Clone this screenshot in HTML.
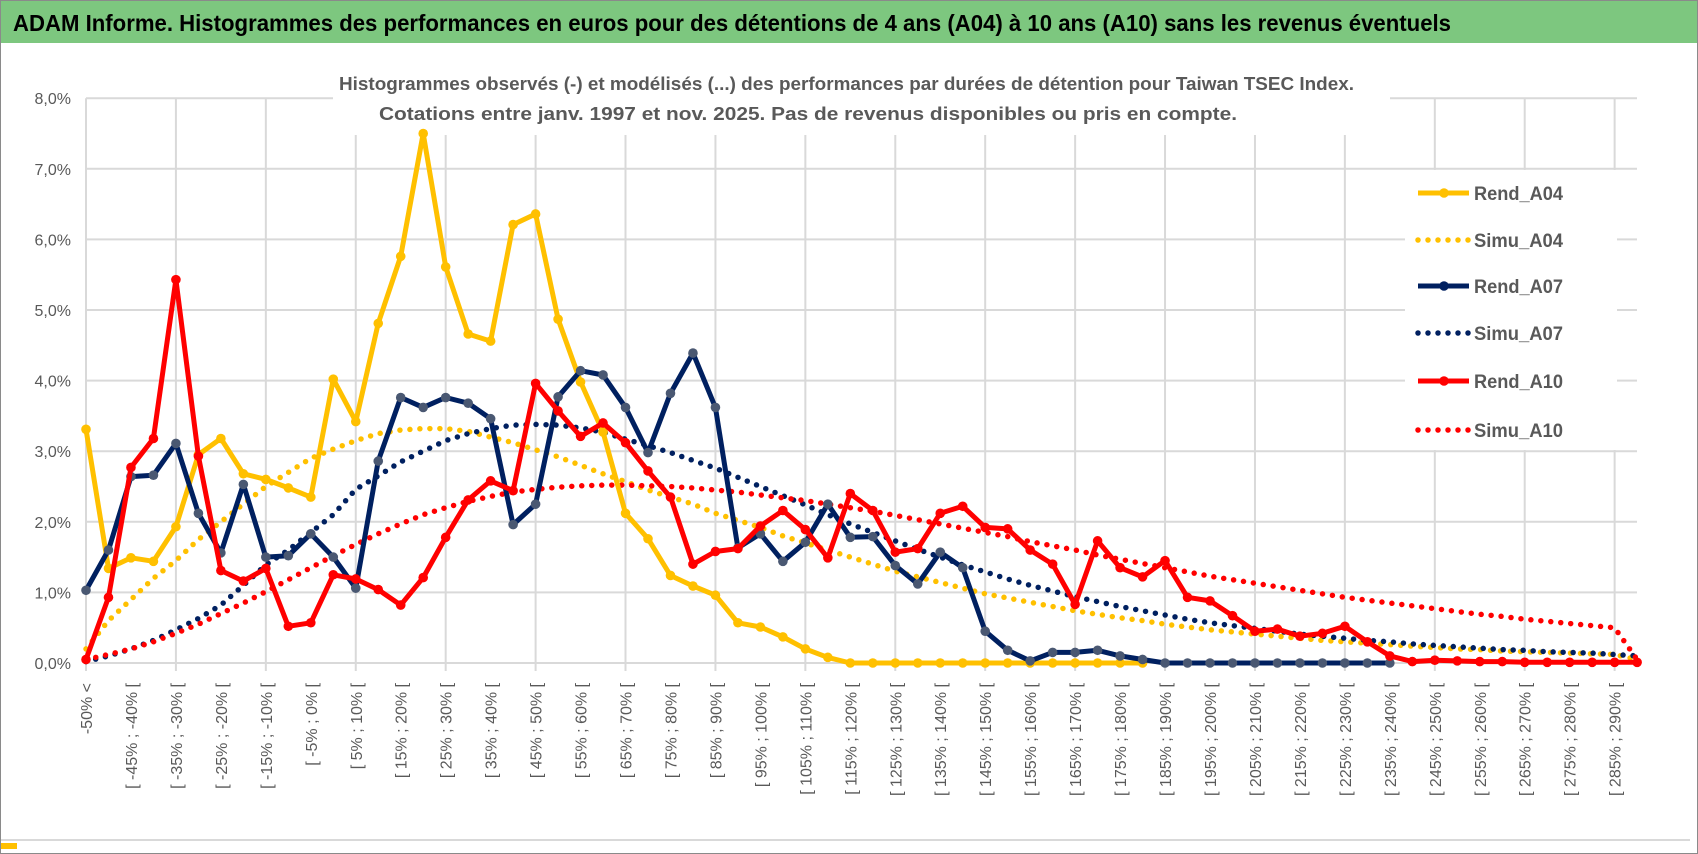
<!DOCTYPE html>
<html><head><meta charset="utf-8"><style>
html,body{margin:0;padding:0;background:#fff;}
svg{display:block;font-family:"Liberation Sans",sans-serif;}
</style></head><body>
<svg id="chart" width="1698" height="854" viewBox="0 0 1698 854" xmlns="http://www.w3.org/2000/svg">
<rect x="0.5" y="0.5" width="1697" height="853" fill="#fff" stroke="#8a8a8a"/>
<rect x="1" y="1" width="1696" height="42" fill="#7dc77f"/>
<text x="13" y="31" font-size="23" font-weight="bold" fill="#000" textLength="1438" lengthAdjust="spacingAndGlyphs">ADAM Informe. Histogrammes des performances en euros pour des détentions de 4 ans (A04) à 10 ans (A10) sans les revenus éventuels</text>
<line x1="1" y1="840" x2="1690" y2="840" stroke="#d9d9d9" stroke-width="2"/>
<rect x="1" y="843" width="16" height="6" fill="#ffc000"/>
<g id="grid"></g>
<g id="ylabels"></g>
<g id="xlabels"></g>
<rect x="333" y="60" width="1057" height="75" fill="#fff"/>
<text x="339" y="90" font-size="18.5" font-weight="bold" fill="#595959" textLength="1015" lengthAdjust="spacingAndGlyphs">Histogrammes observés (-) et modélisés (...) des performances par durées de détention pour Taiwan TSEC Index.</text>
<text x="379" y="120" font-size="18.5" font-weight="bold" fill="#595959" textLength="858" lengthAdjust="spacingAndGlyphs">Cotations entre janv. 1997 et nov. 2025. Pas de revenus disponibles ou pris en compte.</text>
<g id="series"></g>
<rect x="1405" y="170" width="212" height="280" fill="#fff"/>
<g id="legend"></g>
</svg>
<script>
const rendA04 = [3.31,1.34,1.49,1.44,1.93,2.95,3.18,2.68,2.6,2.48,2.35,4.02,3.42,4.81,5.76,7.5,5.61,4.66,4.56,6.21,6.36,4.87,3.98,3.27,2.12,1.76,1.24,1.09,0.96,0.57,0.51,0.37,0.2,0.08,0,0,0,0,0,0,0,0,0,0,0,0,0,0];
const simuA04 = [0.2,0.6,0.9,1.2,1.45,1.75,2.0,2.25,2.5,2.7,2.9,3.03,3.15,3.25,3.3,3.32,3.32,3.28,3.2,3.12,3.02,2.92,2.8,2.68,2.57,2.45,2.35,2.25,2.12,2.02,1.92,1.8,1.7,1.6,1.5,1.4,1.3,1.22,1.14,1.06,0.98,0.92,0.86,0.8,0.74,0.69,0.64,0.6,0.55,0.51,0.47,0.44,0.41,0.38,0.35,0.32,0.3,0.28,0.26,0.24,0.22,0.2,0.19,0.17,0.16,0.15,0.14,0.13,0.12,0.05];
const rendA07 = [1.03,1.6,2.64,2.66,3.11,2.12,1.56,2.53,1.5,1.52,1.83,1.5,1.06,2.86,3.76,3.62,3.76,3.68,3.46,1.96,2.25,3.77,4.14,4.08,3.62,2.98,3.82,4.39,3.62,1.63,1.83,1.44,1.71,2.25,1.78,1.79,1.38,1.12,1.57,1.35,0.45,0.18,0.03,0.15,0.15,0.18,0.1,0.05,0,0,0,0,0,0,0,0,0,0,0];
const simuA07 = [0.02,0.1,0.2,0.32,0.47,0.63,0.82,1.1,1.39,1.6,1.85,2.1,2.46,2.65,2.85,3.0,3.15,3.25,3.32,3.37,3.38,3.37,3.33,3.27,3.17,3.08,2.98,2.87,2.76,2.63,2.5,2.37,2.24,2.1,1.97,1.85,1.73,1.61,1.5,1.39,1.29,1.19,1.1,1.02,0.94,0.87,0.8,0.74,0.68,0.62,0.57,0.53,0.49,0.45,0.41,0.38,0.35,0.32,0.3,0.27,0.25,0.23,0.21,0.19,0.18,0.16,0.15,0.14,0.12,0.1];
const rendA10 = [0.05,0.93,2.77,3.18,5.43,2.93,1.31,1.16,1.34,0.52,0.57,1.25,1.19,1.04,0.82,1.21,1.78,2.31,2.58,2.44,3.96,3.57,3.21,3.4,3.12,2.72,2.35,1.4,1.58,1.62,1.94,2.16,1.89,1.49,2.4,2.16,1.57,1.62,2.12,2.22,1.92,1.9,1.6,1.4,0.83,1.73,1.35,1.22,1.45,0.93,0.88,0.67,0.45,0.48,0.38,0.42,0.52,0.3,0.1,0.02,0.04,0.03,0.02,0.02,0.01,0.01,0.01,0.01,0.01,0.01];
const simuA10 = [0.05,0.12,0.2,0.3,0.42,0.55,0.7,0.85,1.01,1.18,1.35,1.52,1.68,1.83,1.97,2.1,2.2,2.29,2.36,2.42,2.46,2.49,2.51,2.52,2.52,2.51,2.5,2.48,2.45,2.42,2.38,2.34,2.3,2.25,2.2,2.15,2.09,2.03,1.97,1.91,1.85,1.79,1.72,1.66,1.6,1.53,1.47,1.41,1.35,1.29,1.23,1.18,1.13,1.08,1.03,0.98,0.93,0.89,0.85,0.81,0.77,0.73,0.69,0.66,0.62,0.59,0.56,0.53,0.5,0.05];
const yTicks = [0,1,2,3,4,5,6,7,8];
const categories = [];
categories.push('-50% <');
for (let k = 1; k < 70; k++) { categories.push('[ ' + (-55 + 5*k) + '% ; ' + (-50 + 5*k) + '% ['); }

const NS = 'http://www.w3.org/2000/svg';
const X0 = 86, STEP = 22.48, Y0 = 663, YPX = 70.6, XR = 1637;
function xs(i){ return X0 + i*STEP; }
function ys(v){ return Y0 - v*YPX; }
function mk(tag, attrs, parent){ const e = document.createElementNS(NS, tag); for (const k in attrs) e.setAttribute(k, attrs[k]); parent.appendChild(e); return e; }

const grid = document.getElementById('grid');
yTicks.forEach(t => {
  const l = mk('line', {x1:X0, x2:XR, y1:ys(t), y2:ys(t), stroke:'#d9d9d9', 'stroke-width':2}, grid);
  
  
});
for (let i = 0; i < categories.length; i += 4) {
  const l = mk('line', {x1:xs(i), x2:xs(i), y1:ys(8), y2:Y0 + 8, stroke:'#d9d9d9', 'stroke-width':2}, grid);
  
  
}
const yl = document.getElementById('ylabels');
yTicks.forEach(t => {
  const tx = mk('text', {x:71, y:ys(t)+6, 'text-anchor':'end', 'font-size':16, fill:'#595959'}, yl);
  tx.textContent = t.toFixed(1).replace('.', ',') + '%';
  
  
});
const xl = document.getElementById('xlabels');
for (let i = 0; i < categories.length; i += 2) {
  const tx = mk('text', {transform:'translate(' + (xs(i)+6) + ',683) rotate(-90)', 'text-anchor':'end', 'font-size':16, fill:'#595959'}, xl);
  tx.textContent = categories[i];
  
  
}

const sg = document.getElementById('series');
function pts(arr){ return arr.map((v,i) => xs(i).toFixed(1) + ',' + ys(v).toFixed(1)).join(' '); }
function dotted(arr, color, name){
  const p = mk('polyline', {points:pts(arr), fill:'none', stroke:color, 'stroke-width':5.5, 'stroke-linecap':'round', 'stroke-dasharray':'0 10'}, sg);
  
  
}
function solid(arr, color, mcolor, name){
  const p = mk('polyline', {points:pts(arr), fill:'none', stroke:color, 'stroke-width':5, 'stroke-linejoin':'round'}, sg);
  
  
  arr.forEach((v,i) => {
    const c = mk('circle', {cx:xs(i), cy:ys(v), r:4.8, fill:mcolor}, sg);
    
    
  });
}
dotted(simuA04, '#ffc000', 'simu-a04-line');
dotted(simuA07, '#002060', 'simu-a07-line');
dotted(simuA10, '#ff0000', 'simu-a10-line');
solid(rendA04, '#ffc000', '#ffc000', 'rend-a04-line');
solid(rendA07, '#002060', '#4a5872', 'rend-a07-line');
solid(rendA10, '#ff0000', '#ff0000', 'rend-a10-line');

const legendNames = ['Rend_A04','Simu_A04','Rend_A07','Simu_A07','Rend_A10','Simu_A10'];
const legendColors = ['#ffc000','#ffc000','#002060','#002060','#ff0000','#ff0000'];
const legendY = [193,240,286,333,381,430];
const lg = document.getElementById('legend');
legendNames.forEach((n,i) => {
  const dot = n.startsWith('Simu');
  const l = mk('line', {x1:1418, x2:1469, y1:legendY[i], y2:legendY[i], stroke:legendColors[i], 'stroke-width':dot?5.5:5, 'stroke-linecap':dot?'round':'butt', 'stroke-dasharray':dot?'0 10':'none'}, lg);
  
  
  if (!dot) {
    const c = mk('circle', {cx:1444, cy:legendY[i], r:4.8, fill:legendColors[i]}, lg);
    
    
  }
  const t = mk('text', {x:1474, y:legendY[i]+7, 'font-size':19, 'font-weight':'bold', fill:'#595959', textLength:89, lengthAdjust:'spacingAndGlyphs'}, lg);
  t.textContent = n;
  
  
});
</script>
</body></html>
